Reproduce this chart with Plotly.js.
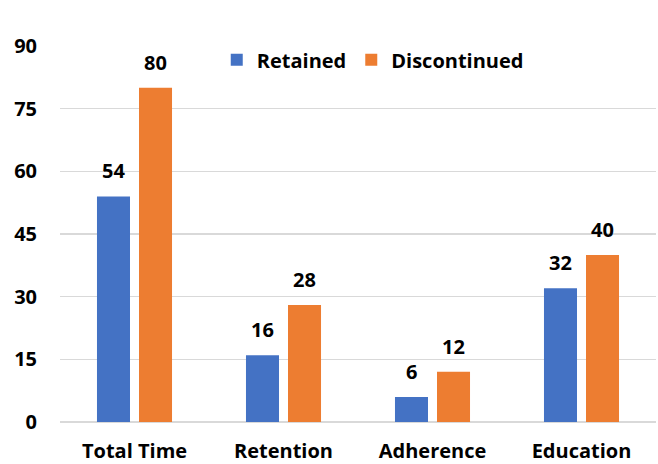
<!DOCTYPE html>
<html>
<head>
<meta charset="utf-8">
<script src="https://cdn.plot.ly/plotly-3.0.1.min.js"></script>
<style>html,body{margin:0;padding:0;background:#fff;}#chart{width:658px;height:464px;}</style>
</head>
<body>
<div id="chart"></div>
<script>
var categories = ['Total Time', 'Retention', 'Adherence', 'Education'];
var retained = [54, 16, 6, 32];
var discontinued = [80, 28, 12, 40];
var yTicks = [0, 15, 30, 45, 60, 75, 90];

var FONT = '"Open Sans", sans-serif';
var FS = 20;
var BLUE = '#4472C4', ORANGE = '#ED7D31';

var traces = [
  {type: 'bar', name: '<b>Retained</b>', x: categories, y: retained, marker: {color: BLUE}},
  {type: 'bar', name: '<b>Discontinued</b>', x: categories, y: discontinued, marker: {color: ORANGE}}
];

var annotations = [];
var off = 0.141;
[retained, discontinued].forEach(function (arr, s) {
  arr.forEach(function (v, i) {
    annotations.push({
      x: i + (s === 0 ? -off : off), y: v, xref: 'x', yref: 'y',
      text: '<b>' + v + '</b>', showarrow: false,
      yanchor: 'bottom', yshift: 10,
      font: {family: FONT, size: FS, color: '#000'}
    });
  });
});

var layout = {
  width: 658, height: 464,
  margin: {l: 60, r: 2, t: 46, b: 42},
  paper_bgcolor: '#fff', plot_bgcolor: '#fff',
  barmode: 'group', bargap: 0.436, bargroupgap: 0.214,
  font: {family: FONT, size: FS, color: '#000'},
  showlegend: true,
  legend: {orientation: 'h', x: 0.263, xanchor: 'left', y: 1.015, yanchor: 'top',
           font: {family: FONT, size: FS, color: '#000'},
           bgcolor: 'rgba(0,0,0,0)'},
  xaxis: {type: 'category', showgrid: false, showline: false, ticks: '',
          ticklabelstandoff: 15,
          tickvals: categories, ticktext: categories.map(function (c) { return '<b>' + c + '</b>'; }),
          tickfont: {family: FONT, size: FS, color: '#000'}},
  yaxis: {range: [0, 90], tickvals: yTicks, ticktext: yTicks.map(function (t) { return '<b>' + t + '</b>'; }),
          showgrid: true, gridcolor: '#d9d9d9', gridwidth: 1.5,
          zeroline: true, zerolinecolor: '#d9d9d9', zerolinewidth: 2,
          showline: false, ticks: '', ticklabelstandoff: 22,
          tickfont: {family: FONT, size: FS, color: '#000'}},
  annotations: annotations
};

Plotly.newPlot('chart', traces, layout, {displayModeBar: false, staticPlot: true});
</script>
</body>
</html>
